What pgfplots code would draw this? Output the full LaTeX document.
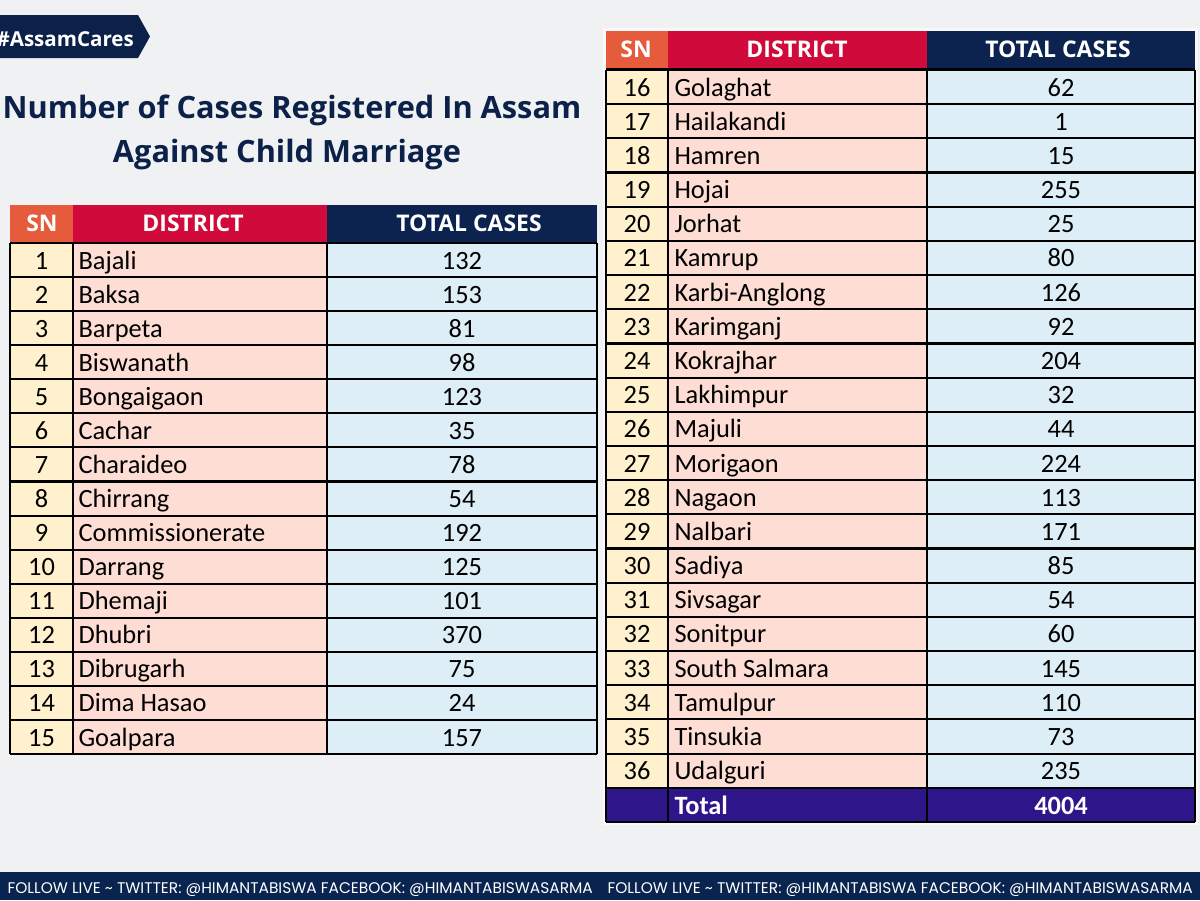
\documentclass[border=0pt]{standalone}
\usepackage{pgfplots}
\pgfplotsset{compat=1.18}
\usepackage{pgfplotstable}
\usepackage{graphicx}
\usepackage{fontspec}
\setmainfont{Carlito}
\newfontfamily\titlefont{Open Sans}
\newfontfamily\footfont{Poppins}

\definecolor{bgc}{HTML}{F0F1F3}
\definecolor{navy}{HTML}{0C2149}
\definecolor{snhead}{HTML}{E55B3B}
\definecolor{dhead}{HTML}{D00B3B}
\definecolor{thead}{HTML}{0C2350}
\definecolor{sncell}{HTML}{FFF1CE}
\definecolor{dcell}{HTML}{FDDDD4}
\definecolor{tcell}{HTML}{DDEEF6}
\definecolor{totrow}{HTML}{2E168A}
\definecolor{foot}{HTML}{0A2450}

\pgfplotstableread[col sep=comma]{
sn,district,cases
1,Bajali,132
2,Baksa,153
3,Barpeta,81
4,Biswanath,98
5,Bongaigaon,123
6,Cachar,35
7,Charaideo,78
8,Chirrang,54
9,Commissionerate,192
10,Darrang,125
11,Dhemaji,101
12,Dhubri,370
13,Dibrugarh,75
14,Dima Hasao,24
15,Goalpara,157
}\lefttab

\pgfplotstableread[col sep=comma]{
sn,district,cases
16,Golaghat,62
17,Hailakandi,1
18,Hamren,15
19,Hojai,255
20,Jorhat,25
21,Kamrup,80
22,Karbi-Anglong,126
23,Karimganj,92
24,Kokrajhar,204
25,Lakhimpur,32
26,Majuli,44
27,Morigaon,224
28,Nagaon,113
29,Nalbari,171
30,Sadiya,85
31,Sivsagar,54
32,Sonitpur,60
33,South Salmara,145
34,Tamulpur,110
35,Tinsukia,73
36,Udalguri,235
}\righttab

\pgfplotsset{
  celltext/.style={draw=none, mark=none, nodes near coords, point meta=explicit symbolic,
    every node near coord/.append style={font=\fontsize{9.9}{11}\selectfont, anchor=#1, inner sep=0pt, text=black}},
}
\tikzset{
  headtext/.style={anchor=base, inner sep=0pt, text=white, font=\titlefont\bfseries\fontsize{8.6}{10}\selectfont},
}

\begin{document}
\begin{tikzpicture}
\begin{axis}[name=ax, scale only axis, width=450pt, height=337.5pt,
  xmin=0, xmax=1200, ymin=0, ymax=900, y dir=reverse, hide axis, clip=false]

% background
\fill[bgc] (0,0) rectangle (1200,900);
% footer
\fill[foot] (0,872) rectangle (1200,900);
\node[anchor=base west, inner sep=0pt, text=white] at (7,893.5)
  {\resizebox{219.5pt}{!}{\footfont FOLLOW LIVE \char"7E{} TWITTER: @HIMANTABISWA FACEBOOK: @HIMANTABISWASARMA}};
\node[anchor=base west, inner sep=0pt, text=white] at (607,893.5)
  {\resizebox{219.5pt}{!}{\footfont FOLLOW LIVE \char"7E{} TWITTER: @HIMANTABISWA FACEBOOK: @HIMANTABISWASARMA}};

% tag
\fill[navy] (0,15) -- (138,15) -- (150,36.5) -- (138,58) -- (0,58) -- cycle;
\node[anchor=base west, inner sep=0pt, text=white] at (-4,46.5)
  {\resizebox{51.5pt}{!}{\titlefont\bfseries \#AssamCares}};

% title
\node[anchor=base, inner sep=0pt, text=navy] at (292,118)
  {\resizebox{217pt}{!}{\titlefont\bfseries Number of Cases Registered In Assam}};
\node[anchor=base, inner sep=0pt, text=navy] at (287,162)
  {\resizebox{130.5pt}{!}{\titlefont\bfseries Against Child Marriage}};

% ---------- left table ----------
\fill[snhead] (10,205) rectangle (73,243);
\fill[dhead] (73,205) rectangle (327,243);
\fill[thead] (327,205) rectangle (597,243);
\fill[sncell] (10,243) rectangle (73,754);
\fill[dcell] (73,243) rectangle (327,754);
\fill[tcell] (327,243) rectangle (597,754);
\pgfplotsinvokeforeach{0,...,15}{
  \draw[line width=0.8pt] (10,{243+#1*34.07}) -- (597,{243+#1*34.07});
}
\draw[line width=0.8pt] (10,243) -- (10,754) (73,243) -- (73,754) (327,243) -- (327,754) (597,243) -- (597,754);
\node[headtext] at (42,231) {SN};
\node[headtext] at (193,231) {DISTRICT};
\node[headtext] at (469,231) {TOTAL CASES};

\addplot[celltext=base] table[x expr=41.5, y expr={243+(\thisrow{sn}-0.5)*34.07+9}, meta=sn] {\lefttab};
\addplot[celltext=base west] table[x expr=78, y expr={243+(\thisrow{sn}-0.5)*34.07+9}, meta=district] {\lefttab};
\addplot[celltext=base] table[x expr=462, y expr={243+(\thisrow{sn}-0.5)*34.07+9}, meta=cases] {\lefttab};

% ---------- right table ----------
\fill[white, opacity=0.6] (603,28) rectangle (1198,825);
\fill[snhead] (606,31) rectangle (668,70);
\fill[dhead] (668,31) rectangle (927,70);
\fill[thead] (927,31) rectangle (1195,70);
\fill[sncell] (606,70) rectangle (668,788);
\fill[dcell] (668,70) rectangle (927,788);
\fill[tcell] (927,70) rectangle (1195,788);
\fill[totrow] (606,788) rectangle (1195,822);
\pgfplotsinvokeforeach{0,...,22}{
  \draw[line width=0.8pt] (606,{70+#1*34.18}) -- (1195,{70+#1*34.18});
}
\draw[line width=1.2pt] (606,69.5) -- (1195,69.5);
\draw[line width=0.8pt] (606,70) -- (606,822) (668,70) -- (668,822) (927,70) -- (927,822) (1195,70) -- (1195,822);
\node[headtext] at (636,57) {SN};
\node[headtext] at (797,57) {DISTRICT};
\node[headtext] at (1058,57) {TOTAL CASES};

\addplot[celltext=base] table[x expr=637, y expr={70+(\thisrow{sn}-15.5)*34.18+9}, meta=sn] {\righttab};
\addplot[celltext=base west] table[x expr=674, y expr={70+(\thisrow{sn}-15.5)*34.18+9}, meta=district] {\righttab};
\addplot[celltext=base] table[x expr=1061, y expr={70+(\thisrow{sn}-15.5)*34.18+9}, meta=cases] {\righttab};

% total row
\addplot[draw=none, mark=none, nodes near coords, point meta=explicit symbolic,
  every node near coord/.append style={font=\bfseries\fontsize{9.9}{11}\selectfont, anchor=base west, inner sep=0pt, text=white}]
  coordinates {(674,814) [Total]};
\addplot[draw=none, mark=none, nodes near coords, point meta=explicit symbolic,
  every node near coord/.append style={font=\bfseries\fontsize{9.9}{11}\selectfont, anchor=base, inner sep=0pt, text=white}]
  coordinates {(1061,814) [4004]};
\end{axis}
\pgfresetboundingbox
\path[use as bounding box] (ax.south west) rectangle (ax.north east);
\end{tikzpicture}
\end{document}
